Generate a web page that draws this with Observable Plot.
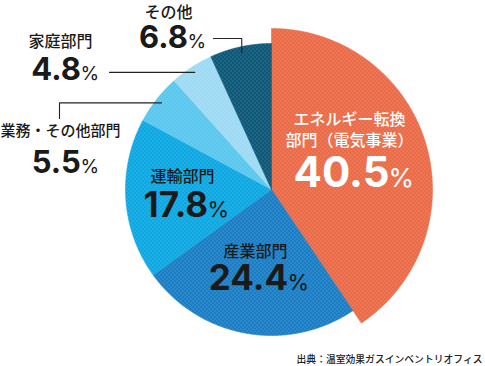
<!DOCTYPE html>
<html><head><meta charset="utf-8">
<script src="https://cdn.jsdelivr.net/npm/d3@7"></script>
<script src="https://cdn.jsdelivr.net/npm/@observablehq/plot@0.6"></script>
<style>
html,body{margin:0;padding:0;background:#fff;}
svg{display:block}
g[aria-label="share"] text{letter-spacing:0.075em}
</style>
</head><body><div id="chart"></div>
<script>
// ---- data ----
const sectors = ["エネルギー転換部門（電気事業）", "産業部門", "運輸部門", "業務・その他部門", "家庭部門", "その他"];
const nameLines = [["エネルギー転換", "部門（電気事業）"], ["産業部門"], ["運輸部門"], ["業務・その他部門"], ["家庭部門"], ["その他"]];
const shares = [40.5, 24.4, 17.8, 5.5, 4.8, 6.8];
const shareLabels = ["40.5", "24.4", "17.8", "5.5", "4.8", "6.8"];
const unit = "%";
const source = "出典：温室効果ガスインベントリオフィス";

// ---- layout / style ----
const W = 485, H = 366, cx = 271, cy = 189, R = 146, Rbig = 161;
const colors = ["#EA6B47", "#1B7EC4", "#0DA8E2", "#5AC7EE", "#9EDAF3", "#0D5878"];
const radii = [Rbig, R, R, R, R, R];
const textColors = ["#ffffff", "#1a1a1a", "#1a1a1a", "#1a1a1a", "#1a1a1a", "#1a1a1a"];
const layout = [
  {nx: 349, ny: [118, 139], sx: 386, by: 187, fs: 42, ps: 26, ns: 16},
  {nx: 255, ny: [250], sx: 285, by: 290, fs: 35, ps: 22, ns: 16},
  {nx: 182, ny: [175], sx: 205, by: 217, fs: 35, ps: 22, ns: 16},
  {nx: 60, ny: [130], sx: 78, by: 173, fs: 31, ps: 19, ns: 15},
  {nx: 60, ny: [40], sx: 78, by: 80, fs: 31, ps: 19, ns: 16},
  {nx: 168, ny: [11], sx: 185, by: 48, fs: 31, ps: 19, ns: 16}
];

const arcs = d3.pie().sort(null).value(d => d)(shares);
const pt = (a, r) => ({x: cx + r * Math.sin(a), y: cy - r * Math.cos(a)});

const slices = arcs.map((a, i) => {
  const r = radii[i];
  const n = Math.max(2, Math.ceil((a.endAngle - a.startAngle) / 0.004));
  const pts = [{x: cx, y: cy}];
  for (let k = 0; k <= n; k++) pts.push(pt(a.startAngle + (a.endAngle - a.startAngle) * k / n, r));
  pts.push({x: cx, y: cy});
  return pts;
});

// leader lines for outer labels (end at slice mid-angle)
const ends = arcs.map(a => pt((a.startAngle + a.endAngle) / 2, 140));
const leaders = [
  [{x: 59, y: 118}, {x: 59, y: ends[3].y}, ends[3]],
  [{x: 109, y: ends[4].y}, ends[4]],
  [{x: 213, y: 38}, {x: ends[5].x, y: 38}, ends[5]]
];

const nameData = [];
nameLines.forEach((lines, i) => lines.forEach((t, j) => nameData.push({t, x: layout[i].nx, y: layout[i].ny[j] + 1, fs: layout[i].ns, c: textColors[i]})));
// letter-spacing adds trailing space after last glyph; compensate in x
const numData = shareLabels.map((t, i) => ({t, x: layout[i].sx + 0.075 * layout[i].fs, y: layout[i].by - 0.34 * layout[i].fs, fs: layout[i].fs, c: textColors[i]}));
const pctData = shareLabels.map((t, i) => ({t: unit, x: layout[i].sx + 2, y: layout[i].by - 0.34 * layout[i].ps, fs: layout[i].ps, c: textColors[i]}));

const marks = [];
slices.forEach((pts, i) => {
  marks.push(Plot.line(pts, {x: "x", y: "y", fill: colors[i], stroke: colors[i], strokeWidth: 0.6, curve: "linear"}));
  marks.push(Plot.line(pts, {x: "x", y: "y", fill: "url(#dots)", stroke: "none", curve: "linear"}));
});
leaders.forEach(l => marks.push(Plot.line(l, {x: "x", y: "y", stroke: "#222", strokeWidth: 1.1})));
const cjk = "'Noto Sans CJK JP', sans-serif";
[...new Set(nameData.map(d => d.fs))].forEach(fs => {
  marks.push(Plot.text(nameData.filter(d => d.fs === fs), {x: "x", y: "y", text: "t", fill: "c", fontSize: fs, fontFamily: cjk, fontWeight: 500, textAnchor: "middle"}));
});
numData.forEach(d => marks.push(Plot.text([d], {x: "x", y: "y", text: "t", fill: "c", fontSize: d.fs, fontFamily: "Inter, sans-serif", fontWeight: 700, textAnchor: "end", ariaLabel: "share"})));
pctData.forEach(d => marks.push(Plot.text([d], {x: "x", y: "y", text: "t", fill: "c", fontSize: d.fs, fontFamily: "Inter, sans-serif", fontWeight: 400, textAnchor: "start"})));
marks.push(Plot.text([source], {frameAnchor: "bottom-right", dx: -3, dy: -4, text: d => d, fontSize: 9.8, fontFamily: cjk, fontWeight: 500, fill: "#222", textAnchor: "end"}));

const svg = Plot.plot({
  width: W, height: H, margin: 0,
  x: {type: "linear", domain: [0, W], range: [0, W], axis: null},
  y: {type: "linear", domain: [0, H], range: [0, H], axis: null},
  style: {fontFamily: cjk, background: "#fff", overflow: "visible"},
  marks
});
const NS = "http://www.w3.org/2000/svg";
const defs = document.createElementNS(NS, "defs");
const pat = document.createElementNS(NS, "pattern");
pat.setAttribute("id", "dots");
pat.setAttribute("width", "4"); pat.setAttribute("height", "4");
pat.setAttribute("patternUnits", "userSpaceOnUse");
[[0, 0], [2, 2]].forEach(([x, y]) => {
  const r = document.createElementNS(NS, "rect");
  r.setAttribute("x", x); r.setAttribute("y", y);
  r.setAttribute("width", 1); r.setAttribute("height", 1);
  r.setAttribute("fill", "#fff"); r.setAttribute("fill-opacity", "0.3");
  pat.appendChild(r);
});
defs.appendChild(pat);
svg.insertBefore(defs, svg.firstChild);
document.getElementById("chart").appendChild(svg);
</script>
</body></html>
